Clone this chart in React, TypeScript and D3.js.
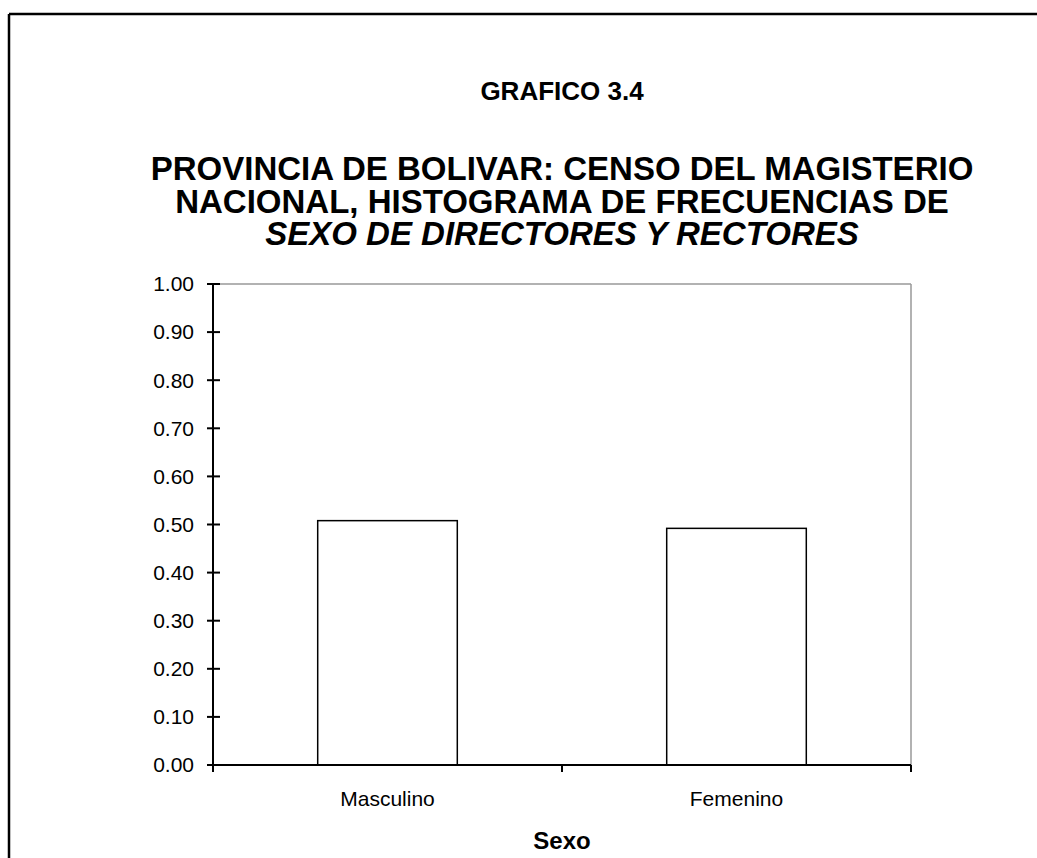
import React from "react";
import * as d3 from "d3";

const categories = ["Masculino", "Femenino"];
const values = [0.508, 0.492];
const yTicks = [0, 0.1, 0.2, 0.3, 0.4, 0.5, 0.6, 0.7, 0.8, 0.9, 1.0];
const titleLines = [
  { text: "PROVINCIA DE BOLIVAR: CENSO DEL MAGISTERIO", italic: false },
  { text: "NACIONAL, HISTOGRAMA DE FRECUENCIAS DE", italic: false },
  { text: "SEXO DE DIRECTORES Y RECTORES", italic: true },
];
const heading = "GRAFICO 3.4";
const xTitle = "Sexo";

export default function App() {
  const W = 1037, H = 858;
  const left = 213, right = 911, top = 284, bottom = 765;
  const font = "Liberation Sans, Arial, sans-serif";
  const x = d3.scaleBand<string>().domain(categories).range([left, right]).paddingInner(0.6).paddingOuter(0.3);
  const band = d3.scaleBand<string>().domain(categories).range([left, right]);
  const y = d3.scaleLinear().domain([0, 1]).range([bottom, top]);
  const cx = (left + right) / 2;
  const xTickPos = [left, ...categories.slice(1).map((c) => band(c)!), right];

  return (
    <svg width={W} height={H} style={{ position: "absolute", left: 0, top: 0, background: "#fff" }}>
      <line x1={9} x2={W + 10} y1={14} y2={14} stroke="#000" strokeWidth={2.5} />
      <line x1={9} x2={9} y1={14} y2={H + 10} stroke="#000" strokeWidth={2.5} />
      <text x={cx} y={100} textAnchor="middle" fontFamily={font} fontWeight="bold" fontSize={26}>{heading}</text>
      <text x={cx} y={180} textAnchor="middle" fontFamily={font} fontWeight="bold" fontSize={33}>
        {titleLines.map((l, i) => (
          <tspan key={i} x={cx} y={180 + i * 32.5} fontStyle={l.italic ? "italic" : "normal"}>{l.text}</tspan>
        ))}
      </text>
      {/* plot frame top/right */}
      <line x1={left} x2={right} y1={top} y2={top} stroke="#999" strokeWidth={1.5} />
      <line x1={right} x2={right} y1={top} y2={bottom} stroke="#999" strokeWidth={1.5} />
      {/* bars */}
      {categories.map((c, i) => (
        <rect key={c} x={x(c)!} y={y(values[i])} width={x.bandwidth()} height={bottom - y(values[i])}
          fill="#fff" stroke="#000" strokeWidth={1.5} />
      ))}
      {/* y axis */}
      <line x1={left} x2={left} y1={top} y2={bottom} stroke="#000" strokeWidth={2} />
      {yTicks.map((t) => (
        <g key={t}>
          <line x1={207} x2={220} y1={y(t)} y2={y(t)} stroke="#000" strokeWidth={2} />
          <text x={194} y={y(t)} dy="0.35em" textAnchor="end" fontFamily={font} fontSize={21}>{d3.format(".2f")(t)}</text>
        </g>
      ))}
      {/* x axis */}
      <line x1={left} x2={right} y1={bottom} y2={bottom} stroke="#000" strokeWidth={2} />
      {xTickPos.map((p, i) => (
        <line key={i} x1={p} x2={p} y1={bottom} y2={bottom + 7} stroke="#000" strokeWidth={2} />
      ))}
      {categories.map((c) => (
        <text key={c} x={band(c)! + band.bandwidth() / 2} y={806} textAnchor="middle" fontFamily={font} fontSize={21}>{c}</text>
      ))}
      <text x={cx} y={849} textAnchor="middle" fontFamily={font} fontWeight="bold" fontSize={24}>{xTitle}</text>
    </svg>
  );
}
